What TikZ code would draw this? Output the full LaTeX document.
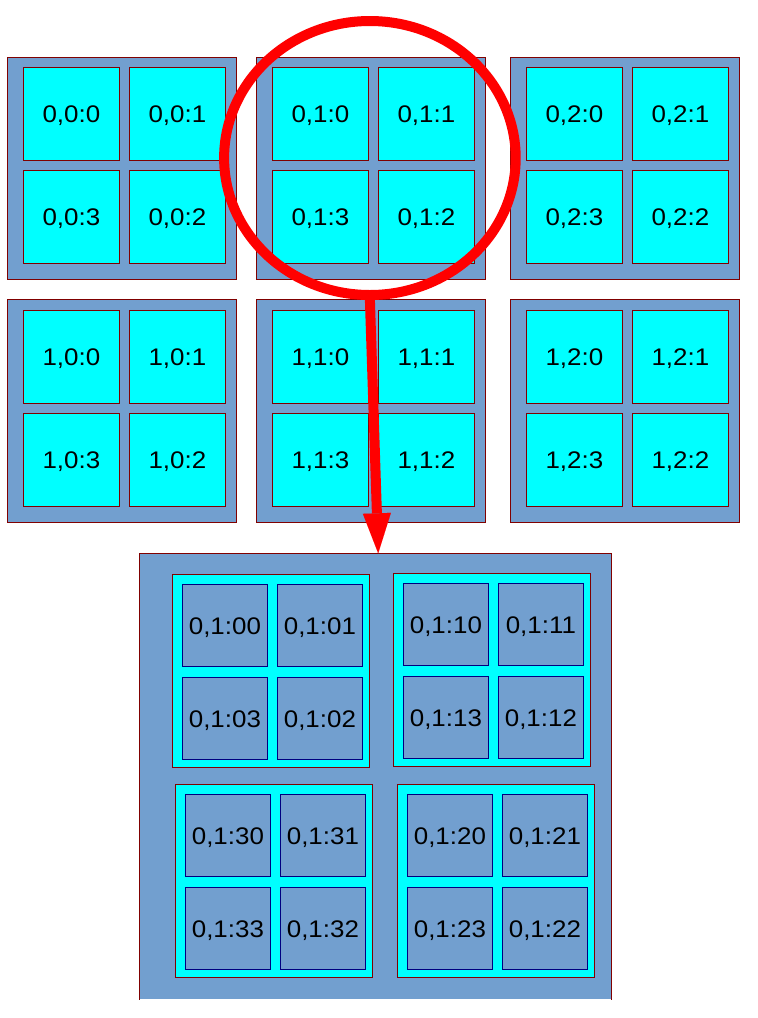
\documentclass[tikz,border=0pt]{standalone}
\usepackage{fontspec}
\setmainfont{Liberation Sans}[FakeStretch=1.08]
\usepackage{tikz}
\usetikzlibrary{shapes}
\usetikzlibrary{arrows.meta}
\usepackage{xcolor}
\definecolor{boxblue}{HTML}{729FCF}
\definecolor{cellcyan}{RGB}{0,255,255}
\definecolor{edgered}{HTML}{800000}
\definecolor{edgeblue}{HTML}{000080}
\definecolor{markred}{RGB}{255,0,0}
\tikzset{
	block node/.style={rectangle,draw=edgered,fill=boxblue,line width=0.8pt,inner sep=0pt,anchor=north west},
	cell node/.style={rectangle,draw=edgered,fill=cellcyan,line width=0.8pt,inner sep=0pt,anchor=north west,minimum width=95.4pt,minimum height=93pt,font=\fontsize{24}{28}\selectfont,text depth=0pt},
	sub node/.style={rectangle,draw=edgered,fill=cellcyan,line width=0.8pt,inner sep=0pt,anchor=north west,minimum width=197pt,minimum height=193pt},
	leaf node/.style={rectangle,draw=edgeblue,fill=boxblue,line width=0.8pt,inner sep=0pt,anchor=north west,minimum width=84.4pt,minimum height=82pt,font=\fontsize{24}{28}\selectfont,text depth=0pt}
}

\begin{document}
\begin{tikzpicture}[x=1pt,y=-1pt
				    ,>={Triangle[length=40pt,width=28pt,line width=0.01pt]}
					]
	\useasboundingbox (0,0) rectangle (758,1018);
	% top grid
	\foreach \r/\y in {0/56.7,1/299.3}
		\foreach \c/\x in {0/7.3,1/256.3,2/510.3}{
			\node [block node,minimum width=228.4pt,minimum height=222.6pt] (b\r\c) at (\x,\y) {};
			\foreach \k/\dx/\dy in {0/16/10.6,1/122/10.6,2/122/113.6,3/16/113.6}
				\node [cell node] (b\r\c-\k) at (\x+\dx,\y+\dy) {\r,\c:\k};
		}
	% zoomed block
	\node [block node,draw=none,minimum width=471pt,minimum height=445.4pt] (big) at (139.3,553.3) {};
	\draw [edgered,line width=0.8pt] (big.south west) -- (big.north west) -- (big.north east) -- (big.south east);
	\foreach \s/\x/\y in {0/172.3/574.3,1/393.3/573.3,2/397.3/784.3,3/175.3/784.3}{
		\node [sub node] (s\s) at (\x,\y) {};
		\foreach \k/\dx/\dy in {0/10/10,1/105/10,2/105/103,3/10/103}
			\node [leaf node] (s\s-\k) at (\x+\dx,\y+\dy) {0,1:\s\k};
	}
	% circle and arrow
	\node [ellipse,draw=markred,line width=10pt,minimum width=291.6pt,minimum height=274pt,inner sep=0pt] (zoom) at (369.9,158) {};
	\draw [->,markred,line width=10pt] (zoom.south) -- ([xshift=3pt]big.north);
\end{tikzpicture}
\end{document}
